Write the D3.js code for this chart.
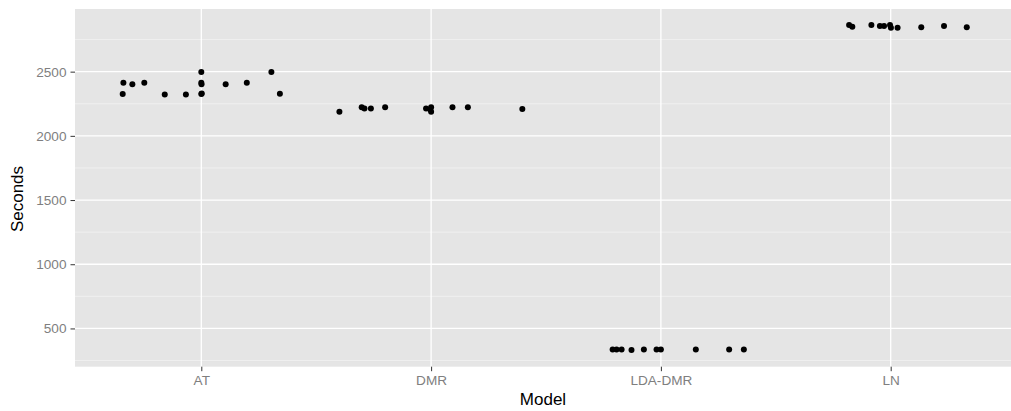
<!DOCTYPE html>
<html lang="en">
<head>
<meta charset="UTF-8">
<title>Seconds by Model</title>
<script src="https://d3js.org/d3.v7.min.js"></script>
<style>
    body { margin: 0; padding: 0; background: #fff; overflow: hidden; }
    svg { display: block; font-family: "Liberation Sans", Arial, Helvetica, sans-serif; }
    .tick-label { fill: #7f7f7f; font-size: 13.6px; }
    .axis-title { fill: #000; font-size: 17px; }
</style>
</head>
<body>
<script>
    // categories on the x axis
    const models = ["AT", "DMR", "LDA-DMR", "LN"];
    const yTicks = [500, 1000, 1500, 2000, 2500];
    const yMinor = [250, 750, 1250, 1750, 2250, 2750];

    // each point: model index, jitter offset (in category units), seconds
    const pointModel = [
        0, 0, 0, 0, 0, 0, 0, 0, 0, 0, 0, 0, 0, 0, 0,
        1, 1, 1, 1, 1, 1, 1, 1, 1, 1, 1, 1,
        2, 2, 2, 2, 2, 2, 2, 2, 2, 2,
        3, 3, 3, 3, 3, 3, 3, 3, 3, 3, 3
    ];
    const pointJitter = [
        -0.339, -0.342, -0.300, -0.248, -0.159, -0.067, 0.000, 0.000, 0.001, 0.000, 0.002, 0.106, 0.198, 0.305, 0.342,
        -0.399, -0.302, -0.290, -0.262, -0.200, -0.022, 0.000, 0.000, -0.004, 0.093, 0.160, 0.397,
        -0.210, -0.193, -0.171, -0.128, -0.074, -0.019, 0.000, 0.152, 0.297, 0.361,
        -0.181, -0.167, -0.084, -0.047, -0.029, -0.003, 0.001, 0.030, 0.133, 0.232, 0.331
    ];
    const pointSeconds = [
        2413, 2326, 2401, 2413, 2323, 2323, 2497, 2413, 2401, 2326, 2330, 2401, 2413, 2497, 2328,
        2188, 2222, 2214, 2214, 2222, 2214, 2222, 2188, 2206, 2222, 2222, 2209,
        335, 335, 335, 333, 335, 335, 335, 335, 335, 335,
        2863, 2850, 2863, 2855, 2855, 2863, 2842, 2842, 2845, 2855, 2845
    ];

    const width = 1011, height = 411;
    const panel = { left: 75, right: 1011, top: 9, bottom: 366.7 };

    const svg = d3.select("body").append("svg")
        .attr("width", width)
        .attr("height", height);

    const x = d3.scaleLinear().domain([0.4504, 4.5235]).range([panel.left, panel.right]);
    const y = d3.scaleLinear().domain([202, 2988]).range([panel.bottom, panel.top]);

    // panel background
    svg.append("rect")
        .attr("x", panel.left).attr("y", panel.top)
        .attr("width", panel.right - panel.left)
        .attr("height", panel.bottom - panel.top)
        .attr("fill", "#e5e5e5");

    // minor grid
    svg.append("g").selectAll("line").data(yMinor).enter().append("line")
        .attr("x1", panel.left).attr("x2", panel.right)
        .attr("y1", d => y(d)).attr("y2", d => y(d))
        .attr("stroke", "#f2f2f2").attr("stroke-width", 0.8);

    // major grid
    svg.append("g").selectAll("line").data(yTicks).enter().append("line")
        .attr("x1", panel.left).attr("x2", panel.right)
        .attr("y1", d => y(d)).attr("y2", d => y(d))
        .attr("stroke", "#fff").attr("stroke-width", 1.3);

    svg.append("g").selectAll("line").data(models).enter().append("line")
        .attr("x1", (d, i) => x(i + 1)).attr("x2", (d, i) => x(i + 1))
        .attr("y1", panel.top).attr("y2", panel.bottom)
        .attr("stroke", "#fff").attr("stroke-width", 1.3);

    // points
    svg.append("g").selectAll("circle").data(pointSeconds).enter().append("circle")
        .attr("cx", (d, i) => x(pointModel[i] + 1 + pointJitter[i]))
        .attr("cy", d => y(d))
        .attr("r", 3)
        .attr("fill", "#000");

    // y axis
    const yAxis = svg.append("g")
        .attr("transform", `translate(${panel.left},0)`)
        .call(d3.axisLeft(y).tickValues(yTicks).tickSize(4.5).tickPadding(4).tickFormat(d3.format("d")));
    yAxis.select(".domain").remove();
    yAxis.selectAll(".tick line").attr("stroke", "#333").attr("stroke-width", 1);
    yAxis.selectAll(".tick text").attr("class", "tick-label").attr("font-size", null).attr("font-family", null);

    // x axis
    const xAxis = svg.append("g")
        .attr("transform", `translate(0,${panel.bottom})`)
        .call(d3.axisBottom(x).tickValues([1, 2, 3, 4]).tickSize(4.5).tickPadding(4).tickFormat(d => models[d - 1]));
    xAxis.select(".domain").remove();
    xAxis.selectAll(".tick line").attr("stroke", "#333").attr("stroke-width", 1);
    xAxis.selectAll(".tick text").attr("class", "tick-label").attr("font-size", null).attr("font-family", null);

    // axis titles
    svg.append("text")
        .attr("class", "axis-title")
        .attr("x", (panel.left + panel.right) / 2)
        .attr("y", 405)
        .attr("text-anchor", "middle")
        .text("Model");

    svg.append("text")
        .attr("class", "axis-title")
        .attr("transform", "translate(23,199) rotate(-90)")
        .attr("text-anchor", "middle")
        .text("Seconds");
</script>
</body>
</html>
